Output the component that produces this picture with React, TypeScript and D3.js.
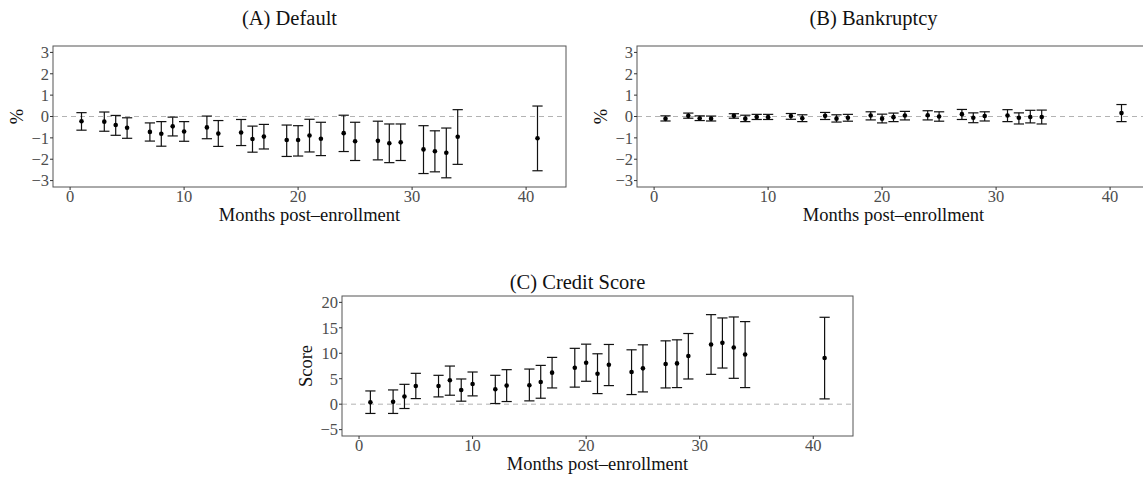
import * as d3 from 'd3';

// months with an estimate (same for all three panels)
const months = [1, 3, 4, 5, 7, 8, 9, 10, 12, 13, 15, 16, 17, 19, 20, 21, 22, 24, 25, 27, 28, 29, 31, 32, 33, 34, 41];

// (A) Default, percentage points
const defaultEst = [-0.22, -0.24, -0.4, -0.53, -0.72, -0.81, -0.46, -0.7, -0.51, -0.8, -0.75, -1.05, -0.94, -1.1, -1.1, -0.89, -1.04, -0.78, -1.16, -1.14, -1.25, -1.21, -1.54, -1.63, -1.7, -0.95, -1.02];
const defaultLo = [-0.64, -0.69, -0.88, -1.02, -1.15, -1.39, -0.91, -1.16, -1.04, -1.4, -1.36, -1.67, -1.52, -1.87, -1.85, -1.66, -1.83, -1.64, -2.06, -2.03, -2.16, -2.06, -2.67, -2.59, -2.87, -2.24, -2.54];
const defaultHi = [0.18, 0.21, 0.05, -0.06, -0.3, -0.24, -0.03, -0.24, 0.02, -0.19, -0.14, -0.45, -0.37, -0.4, -0.43, -0.13, -0.27, 0.06, -0.27, -0.22, -0.35, -0.35, -0.43, -0.67, -0.54, 0.32, 0.49];

// (B) Bankruptcy
const bankEst = [-0.11, 0.03, -0.08, -0.1, 0.03, -0.1, -0.02, -0.03, 0.02, -0.08, 0.03, -0.1, -0.06, 0.05, -0.1, -0.03, 0.05, 0.06, 0.0, 0.11, -0.06, 0.02, 0.05, -0.06, -0.02, -0.02, 0.16];
const bankLo = [-0.21, -0.08, -0.19, -0.21, -0.08, -0.24, -0.14, -0.14, -0.13, -0.24, -0.14, -0.26, -0.22, -0.16, -0.3, -0.24, -0.16, -0.16, -0.22, -0.14, -0.29, -0.21, -0.24, -0.35, -0.3, -0.35, -0.24];
const bankHi = [0.03, 0.16, 0.03, 0.02, 0.13, 0.06, 0.1, 0.1, 0.14, 0.08, 0.19, 0.08, 0.1, 0.22, 0.11, 0.16, 0.24, 0.27, 0.22, 0.33, 0.17, 0.22, 0.32, 0.17, 0.29, 0.3, 0.56];

// (C) Credit Score
const scoreEst = [0.39, 0.46, 1.5, 3.58, 3.58, 4.69, 2.8, 3.97, 2.93, 3.65, 3.71, 4.36, 6.19, 7.17, 8.14, 5.99, 7.75, 6.32, 7.04, 7.88, 8.01, 9.45, 11.73, 12.05, 11.14, 9.77, 9.06];
const scoreLo = [-1.82, -1.82, -0.85, 1.1, 1.43, 1.76, 0.59, 1.63, 0.13, 0.52, 0.65, 1.17, 3.19, 3.35, 4.5, 2.08, 3.65, 1.89, 2.41, 3.19, 3.26, 4.95, 5.86, 7.1, 5.08, 3.26, 1.04];
const scoreHi = [2.6, 2.8, 3.9, 6.06, 5.67, 7.49, 4.95, 6.32, 5.67, 6.78, 6.9, 7.62, 9.19, 10.97, 11.79, 9.9, 11.73, 10.68, 11.66, 12.44, 12.64, 13.88, 17.59, 16.94, 17.13, 16.22, 17.07];

const pctTicks = [-3, -2, -1, 0, 1, 2, 3];
const scoreTicks = [-5, 0, 5, 10, 15, 20];
const monthTicks = [0, 10, 20, 30, 40];

const FONT = '"Liberation Serif", "DejaVu Serif", serif';
const TICK_COL = '#4d4d4d';

type PanelProps = {
  title: string;
  titleY: number;
  yLabel: string;
  left: number;
  right: number;
  top: number;
  bottom: number;
  yDomain: [number, number];
  yTicks: number[];
  est: number[];
  lo: number[];
  hi: number[];
};

function Panel({ title, titleY, yLabel, left, right, top, bottom, yDomain, yTicks, est, lo, hi }: PanelProps) {
  const x = d3.scaleLinear().domain([-1.5, 43.5]).range([left, right]);
  const y = d3.scaleLinear().domain(yDomain).range([bottom, top]);
  const capHalf = x(0.45) - x(0);
  const tickFmt = (v: number) => (v < 0 ? '\u2212' + Math.abs(v) : String(v));
  const titleCenter = (left - 40 + right) / 2;

  return (
    <g>
      <text x={titleCenter} y={titleY} textAnchor="middle" fontFamily={FONT} fontSize={20.5} fill="#111">
        {title}
      </text>

      {/* zero line */}
      <line x1={left} x2={right} y1={y(0)} y2={y(0)} stroke="#b3b3b3" strokeWidth={1} strokeDasharray="5,4" />

      {/* error bars */}
      {months.map((m, i) => (
        <g key={m}>
          <line x1={x(m)} x2={x(m)} y1={y(lo[i])} y2={y(hi[i])} stroke="#111" strokeWidth={1.2} />
          <line x1={x(m) - capHalf} x2={x(m) + capHalf} y1={y(lo[i])} y2={y(lo[i])} stroke="#111" strokeWidth={1.2} />
          <line x1={x(m) - capHalf} x2={x(m) + capHalf} y1={y(hi[i])} y2={y(hi[i])} stroke="#111" strokeWidth={1.2} />
          <circle cx={x(m)} cy={y(est[i])} r={2.3} fill="#000" />
        </g>
      ))}

      {/* panel border */}
      <rect x={left} y={top} width={right - left} height={bottom - top} fill="none" stroke="#555" strokeWidth={1} />

      {/* y axis */}
      {yTicks.map((t) => (
        <g key={t}>
          <line x1={left - 3} x2={left} y1={y(t)} y2={y(t)} stroke="#333" strokeWidth={1} />
          <text x={left - 4} y={y(t)} dy="0.35em" textAnchor="end" fontFamily={FONT} fontSize={16.5} fill={TICK_COL}>
            {tickFmt(t)}
          </text>
        </g>
      ))}
      <text
        transform={`translate(${left - 36},${(top + bottom) / 2}) rotate(-90)`}
        textAnchor="middle"
        dy="0.35em"
        fontFamily={FONT}
        fontSize={18.5}
        fill="#111"
      >
        {yLabel}
      </text>

      {/* x axis */}
      {monthTicks.map((t) => (
        <g key={t}>
          <line x1={x(t)} x2={x(t)} y1={bottom} y2={bottom + 3} stroke="#333" strokeWidth={1} />
          <text x={x(t)} y={bottom + 15} textAnchor="middle" fontFamily={FONT} fontSize={16.5} fill={TICK_COL}>
            {t}
          </text>
        </g>
      ))}
      <text x={(left + right) / 2} y={bottom + 34} textAnchor="middle" fontFamily={FONT} fontSize={18.5} fill="#111">
        Months post{'\u2013'}enrollment
      </text>
    </g>
  );
}

export default function App() {
  return (
    <svg
      width={1143}
      height={479}
      style={{ position: 'absolute', left: 0, top: 0, background: '#fff' }}
    >
      <Panel
        title="(A) Default"
        titleY={25}
        yLabel="%"
        left={53}
        right={566}
        top={46}
        bottom={187}
        yDomain={[-3.3, 3.3]}
        yTicks={pctTicks}
        est={defaultEst}
        lo={defaultLo}
        hi={defaultHi}
      />
      <Panel
        title="(B) Bankruptcy"
        titleY={25}
        yLabel="%"
        left={637}
        right={1150}
        top={46}
        bottom={187}
        yDomain={[-3.3, 3.3]}
        yTicks={pctTicks}
        est={bankEst}
        lo={bankLo}
        hi={bankHi}
      />
      <Panel
        title="(C) Credit Score"
        titleY={289}
        yLabel="Score"
        left={342}
        right={853}
        top={296}
        bottom={436}
        yDomain={[-6.25, 21.25]}
        yTicks={scoreTicks}
        est={scoreEst}
        lo={scoreLo}
        hi={scoreHi}
      />
    </svg>
  );
}
